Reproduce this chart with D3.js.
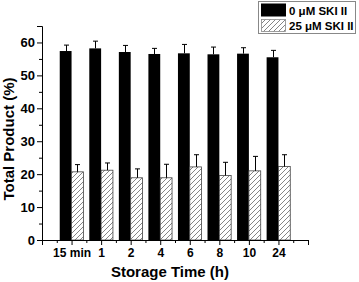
<!DOCTYPE html>
<html><head><meta charset="utf-8">
<script src="https://cdn.jsdelivr.net/npm/d3@7"></script>
<style>body{margin:0;background:#fff}svg{display:block}text{font-family:Arial,"Liberation Sans",sans-serif;font-weight:bold;fill:#000}</style>
</head><body><svg id="c" width="359" height="282"></svg>
<script>
const categories = ["15 min","1","2","4","6","8","10","24"];
const control = [57.4,58.2,57.1,56.5,56.7,56.4,56.6,55.5];
const controlErr = [1.8,2.2,2.0,1.7,2.7,2.2,1.8,2.1];
const treated = [20.7,21.2,18.9,18.9,22.2,19.6,21.0,22.3];
const treatedErr = [2.2,2.2,2.7,4.1,3.7,4.0,4.4,3.6];
const seriesNames = ["0 \u03bcM SKI II","25 \u03bcM SKI II"];
const yTicks = [0,10,20,30,40,50,60];

const svg = d3.select("#c");
const m = {l:42, r:308, t:26, b:240};
const x = d3.scaleLinear().domain([0, categories.length+1]).range([m.l, m.r]);
const y = d3.scaleLinear().domain([0,65]).range([m.b, m.t]);
const bw = 0.4;

const defs = svg.append("defs");
const pat = defs.append("pattern").attr("id","hatch").attr("patternUnits","userSpaceOnUse")
  .attr("width",5).attr("height",5);
pat.append("rect").attr("width",5).attr("height",5).attr("fill","#fff");
pat.append("path").attr("d","M-1,1 l2,-2 M0,5 l5,-5 M4,6 l2,-2").attr("stroke","#666").attr("stroke-width",0.8);

const g = svg.append("g");
categories.forEach((c,i)=>{
  const cx = i+1;
  g.append("rect").attr("x",x(cx-bw)).attr("y",y(control[i])).attr("width",x(cx)-x(cx-bw))
    .attr("height",y(0)-y(control[i])).attr("fill","#000");
  g.append("rect").attr("x",x(cx)).attr("y",y(treated[i])).attr("width",x(cx+bw)-x(cx))
    .attr("height",y(0)-y(treated[i])).attr("fill","url(#hatch)").attr("stroke","#444").attr("stroke-width",0.8);
  [[cx-bw/2, control[i], controlErr[i]],[cx+bw/2, treated[i], treatedErr[i]]].forEach(([px,v,e])=>{
    const xx = Math.round(x(px))+0.5;
    g.append("line").attr("x1",xx).attr("x2",xx).attr("y1",y(v)).attr("y2",y(v+e)).attr("stroke","#000").attr("stroke-width",1);
    g.append("line").attr("x1",xx-2.5).attr("x2",xx+2.5).attr("y1",y(v+e)).attr("y2",y(v+e)).attr("stroke","#000").attr("stroke-width",1);
  });
});

const yAx = svg.append("g").attr("transform",`translate(${m.l},0)`)
  .call(d3.axisLeft(y).tickValues(yTicks).tickSize(5).tickPadding(2));
svg.append("g").attr("transform",`translate(${m.l},0)`)
  .call(d3.axisLeft(y).tickValues(d3.range(5,70,10)).tickSize(3).tickFormat(""))
  .call(s=>s.select(".domain").remove());
yAx.selectAll("text").style("font-size","13px").style("font-weight","bold");
const xAx = svg.append("g").attr("transform",`translate(0,${m.b})`)
  .call(d3.axisBottom(x).tickValues(d3.range(0,categories.length+2)).tickSize(5).tickPadding(3)
    .tickFormat(d=> (d>=1 && d<=categories.length) ? categories[d-1] : ""));
svg.append("g").attr("transform",`translate(0,${m.b})`)
  .call(d3.axisBottom(x).tickValues(d3.range(0.5,categories.length+1,1)).tickSize(3).tickFormat(""))
  .call(s=>s.select(".domain").remove());
xAx.selectAll("text").style("font-size","12px").style("font-weight","bold");
svg.selectAll(".domain").attr("stroke","#000").attr("stroke-width",1);
svg.selectAll(".tick line").attr("stroke","#000");

svg.append("text").attr("x",170).attr("y",277).attr("text-anchor","middle").style("font-size","15px").text("Storage Time (h)");
svg.append("text").attr("transform","translate(14,139) rotate(-90)").attr("text-anchor","middle").style("font-size","15px").text("Total Product (%)");

const lg = svg.append("g");
lg.append("rect").attr("x",258.5).attr("y",1.5).attr("width",97).attr("height",32).attr("fill","#fff").attr("stroke","#888").attr("stroke-width",1);
lg.append("rect").attr("x",261).attr("y",3.5).attr("width",25).attr("height",13).attr("fill","#000");
lg.append("rect").attr("x",261.5).attr("y",19.5).attr("width",24).attr("height",12).attr("fill","url(#hatch)").attr("stroke","#888").attr("stroke-width",0.8);
lg.append("text").attr("x",289).attr("y",14.5).style("font-size","11.5px").text(seriesNames[0]);
lg.append("text").attr("x",289).attr("y",30).style("font-size","11.5px").text(seriesNames[1]);
</script></body></html>
